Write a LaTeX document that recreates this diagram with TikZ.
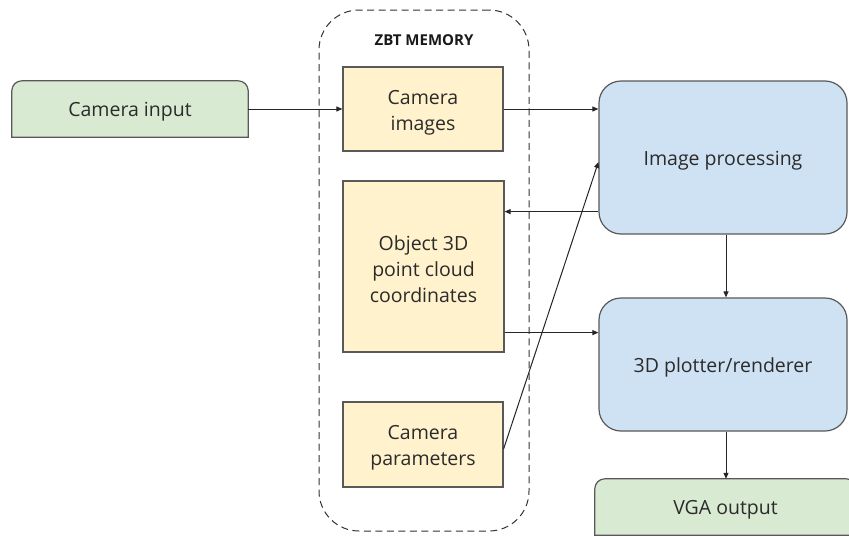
\documentclass[tikz,border=0pt]{standalone}
\usepackage{fontspec}
\setmainfont{Open Sans}
\usetikzlibrary{arrows.meta}
\definecolor{fillgreen}{HTML}{D9EAD3}
\definecolor{fillyellow}{HTML}{FFF2CC}
\definecolor{fillblue}{HTML}{CFE2F3}
\definecolor{edgegray}{HTML}{595959}
\definecolor{textgray}{HTML}{2B2B2B}
\pgfdeclarelayer{bg}
\pgfsetlayers{bg,main}
\newcommand\boxstrut{\rule{0pt}{21pt}}
\tikzset{
  boxtext/.style={text=textgray, align=center, inner sep=0pt,
    font=\fontsize{19.5}{26}\selectfont},
  oneline/.style={text height=15pt, text depth=0pt},
  membox/.style={boxtext, draw=edgegray, fill=fillyellow, line width=1.2pt},
  procbox/.style={boxtext, oneline, draw=edgegray, fill=fillblue, line width=1.2pt,
    rounded corners=22pt},
  iobox/.style={fill=fillgreen, draw=edgegray, line width=1.2pt},
  arr/.style={draw=black!85, line width=1pt,
    -{Triangle[length=6pt,width=5pt]}},
}
\begin{document}
\begin{tikzpicture}[x=1pt,y=-1pt]
\clip (0,0) rectangle (849,536);
\begin{pgfonlayer}{bg}
  \fill[white] (0,0) rectangle (849,536);
\end{pgfonlayer}

% ZBT memory container
\node[draw=black!80, dashed, dash pattern=on 7pt off 4.5pt, line width=1pt,
      rounded corners=40pt, minimum width=210pt, minimum height=521pt]
      (zbt) at (424,270.5) {};
\node[text=black!90, font=\fontsize{15}{18}\selectfont\bfseries]
      (zbtlabel) at (424,40) {ZBT MEMORY};

% memory blocks
\node[membox, minimum width=160pt, minimum height=84pt]  (camimg) at (423,109)   {\boxstrut Camera\\images};
\node[membox, minimum width=161pt, minimum height=171pt] (obj)    at (423.5,266.5) {\boxstrut Object 3D\\point cloud\\coordinates};
\node[membox, minimum width=160pt, minimum height=85pt]  (campar) at (423,444.5) {\boxstrut Camera\\parameters};

% processing blocks
\node[procbox, minimum width=248pt, minimum height=153pt] (imgproc) at (723,157.5) {Image processing};
\node[procbox, minimum width=248pt, minimum height=133pt] (plotter) at (723,364.5) {3D plotter/renderer};

% input / output blocks (rounded on top only)
\node[boxtext, oneline, minimum width=236pt, minimum height=56pt] (cin) at (130,109) {Camera input};
\node[boxtext, oneline, minimum width=261pt, minimum height=56pt] (vga) at (725.5,507) {VGA output};
\begin{pgfonlayer}{bg}
  \filldraw[iobox] (cin.south west) [rounded corners=10pt] -- (cin.north west)
    -- (cin.north east) [sharp corners] -- (cin.south east) -- cycle;
  \filldraw[iobox] (vga.south west) [rounded corners=10pt] -- (vga.north west)
    -- (vga.north east) [sharp corners] -- (vga.south east) -- cycle;
\end{pgfonlayer}

% data flow
\draw[arr] (cin.east) -- (camimg.west);
\draw[arr] (camimg.east) -- (camimg.east -| imgproc.west);
\draw[arr] ([yshift=23pt]imgproc.south west) -- ([yshift=23pt]imgproc.south west -| obj.east);
\draw[arr] ([yshift=-4.5pt]campar.east) -- ([yshift=-4.5pt]imgproc.west);
\draw[arr] ([yshift=20pt]obj.south east) -- ([yshift=20pt]obj.south east -| plotter.west);
\draw[arr] ([xshift=3pt]imgproc.south) -- ([xshift=3pt]plotter.north);
\draw[arr] ([xshift=3pt]plotter.south) -- ([xshift=3pt]plotter.south |- vga.north);
\end{tikzpicture}
\end{document}
